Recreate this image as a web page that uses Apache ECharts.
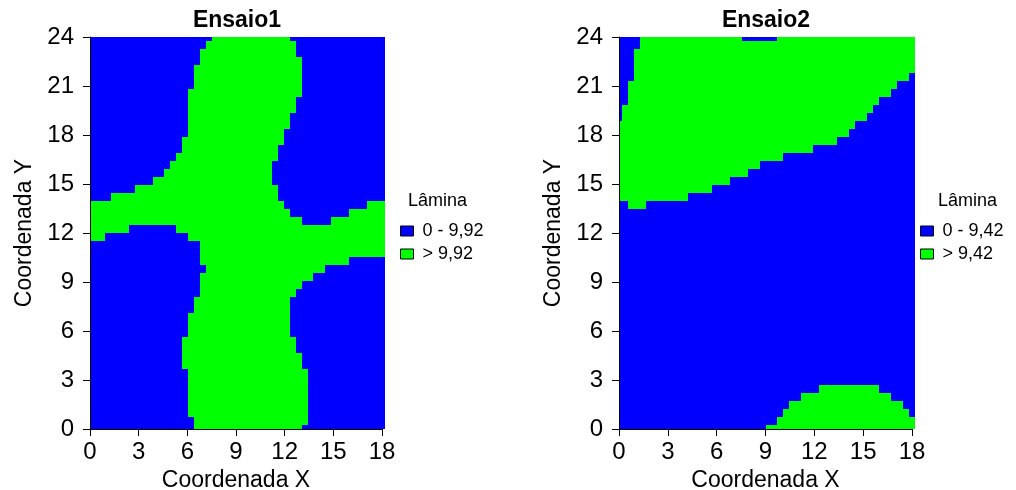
<!DOCTYPE html>
<html>
<head>
<meta charset="utf-8">
<script src="https://cdn.jsdelivr.net/npm/echarts@6/dist/echarts.min.js"></script>
<style>
html,body{margin:0;padding:0;background:#ffffff;}
#c{width:1016px;height:490px;}
</style>
</head>
<body>
<div id="c"></div>
<script>
// ---------- DATA ----------
const titles = ['Ensaio1', 'Ensaio2'];
const xTicks = [0, 3, 6, 9, 12, 15, 18];
const yTicks = [0, 3, 6, 9, 12, 15, 18, 21, 24];
const xName = 'Coordenada X';
const yName = 'Coordenada Y';
const legendTitle = 'Lâmina';
const ens1Classes = ['0 - 9,92', '> 9,92'];
const ens2Classes = ['0 - 9,42', '> 9,42'];
// interpolation grid: 50 x 50 nodes over X 0..18, Y 0..24
const gridCols = 50;
const gridRows = 50;
// green (> threshold) runs per grid row, bottom (row 0) to top (row 49),
// given as [first column, column after last] of grid nodes
const ens1Green = [
  [[18,36]], [[18,37]], [[17,37]], [[17,37]], [[17,37]],
  [[17,37]], [[17,37]], [[17,37]], [[16,36]], [[16,36]],
  [[16,35]], [[16,35]], [[17,34]], [[17,34]], [[17,34]],
  [[18,34]], [[18,34]], [[19,35]], [[19,36]], [[19,38]],
  [[20,40]], [[19,44]], [[19,50]], [[19,50]], [[0,3],[17,50]],
  [[0,7],[15,50]], [[0,36],[41,50]], [[0,34],[44,50]], [[0,33],[47,50]], [[4,32]],
  [[8,32]], [[11,31]], [[13,31]], [[14,31]], [[15,32]],
  [[16,32]], [[16,33]], [[17,33]], [[17,34]], [[17,34]],
  [[17,35]], [[17,35]], [[17,36]], [[18,36]], [[18,36]],
  [[18,36]], [[19,36]], [[19,35]], [[20,35]], [[21,34]]
];
const ens2Green = [
  [[25,50]], [[27,50]], [[28,49]], [[29,48]], [[31,46]],
  [[34,44]], [], [], [], [],
  [], [], [], [], [],
  [], [], [], [], [],
  [], [], [], [], [],
  [], [], [], [[2,5]], [[0,12]],
  [[0,16]], [[0,19]], [[0,22]], [[0,24]], [[0,28]],
  [[0,33]], [[0,37]], [[0,39]], [[0,40]], [[1,42]],
  [[1,43]], [[2,44]], [[2,46]], [[2,47]], [[3,49]],
  [[3,50]], [[3,50]], [[3,50]], [[4,50]], [[4,21],[27,50]]
];

// ---------- BUILD ----------
const xMin = xTicks[0], xMax = xTicks[xTicks.length - 1];
const yMin = yTicks[0], yMax = yTicks[yTicks.length - 1];

function buildRuns(rows) {
  const dx = (xMax - xMin) / (gridCols - 1);
  const dy = (yMax - yMin) / (gridRows - 1);
  const toX = k => Math.max(xMin, xMin + (k - 0.5) * dx);
  const low = [], high = [];
  rows.forEach((runs, j) => {
    const y0 = Math.max(yMin, yMin + (j - 0.5) * dy);
    const y1 = Math.min(yMax, yMin + (j + 0.5) * dy);
    let c = 0;
    runs.forEach(([s, e]) => {
      if (s > c) low.push([toX(c), toX(s), y0, y1]);
      high.push([toX(s), toX(e), y0, y1]);
      c = e;
    });
    if (c < gridCols) low.push([toX(c), toX(gridCols), y0, y1]);
  });
  return { low, high };
}

function renderItem(params, api) {
  const p0 = api.coord([api.value(0), api.value(3)]);
  const p1 = api.coord([api.value(1), api.value(2)]);
  const x0 = Math.round(p0[0]), x1 = Math.round(p1[0]);
  const y0 = Math.round(p0[1]), y1 = Math.round(p1[1]);
  return {
    type: 'rect',
    shape: { x: x0, y: y0, width: x1 - x0, height: y1 - y0 },
    style: { fill: api.visual('color'), stroke: null }
  };
}

const FONT = 'Liberation Sans, Arial, sans-serif';
const BLUE = '#0000ff', GREEN = '#00ff00';

const grids = [
  { left: 90, top: 37, width: 292, height: 392, outerBoundsMode: 'none', containLabel: false },
  { left: 619, top: 37, width: 293, height: 392, outerBoundsMode: 'none', containLabel: false }
];

function axisCommon() {
  return {
    axisLine: { show: true, lineStyle: { color: '#000', width: 1 } },
    axisTick: { show: true, length: 7, lineStyle: { color: '#000', width: 1 } },
    splitLine: { show: false },
    nameTextStyle: { color: '#000', fontSize: 23, fontFamily: FONT },
    z: 10
  };
}

const xAxes = grids.map((g, i) => Object.assign(axisCommon(), {
  type: 'value', gridIndex: i, min: xMin, max: xMax, interval: xTicks[1] - xTicks[0],
  name: xName, nameLocation: 'middle', nameGap: 34,
  axisLabel: { color: '#000', fontSize: 24, fontFamily: FONT, margin: 11 }
}));
const yAxes = grids.map((g, i) => Object.assign(axisCommon(), {
  type: 'value', gridIndex: i, min: yMin, max: yMax, interval: yTicks[1] - yTicks[0],
  name: yName, nameLocation: 'middle', nameGap: 54,
  axisLabel: { color: '#000', fontSize: 24, fontFamily: FONT, margin: 16 }
}));

const sets = [
  { runs: buildRuns(ens1Green), classes: ens1Classes },
  { runs: buildRuns(ens2Green), classes: ens2Classes }
];

const series = [];
sets.forEach((s, i) => {
  series.push({
    type: 'custom', name: s.classes[0], xAxisIndex: i, yAxisIndex: i,
    renderItem, data: s.runs.low, itemStyle: { color: BLUE },
    encode: { x: [0, 1], y: [2, 3] }, clip: false, silent: true
  });
  series.push({
    type: 'custom', name: s.classes[1], xAxisIndex: i, yAxisIndex: i,
    renderItem, data: s.runs.high, itemStyle: { color: GREEN },
    encode: { x: [0, 1], y: [2, 3] }, clip: false, silent: true
  });
});

const legendPos = [{ left: 400, lt: 408 }, { left: 920, lt: 938 }];

const option = {
  animation: false,
  backgroundColor: '#ffffff',
  title: [
    { text: titles[0], left: 237, top: 9, textAlign: 'center', padding: 0,
      textStyle: { fontSize: 23, fontWeight: 'bold', color: '#000', fontFamily: FONT } },
    { text: titles[1], left: 766, top: 9, textAlign: 'center', padding: 0,
      textStyle: { fontSize: 23, fontWeight: 'bold', color: '#000', fontFamily: FONT } },
    { text: legendTitle, left: legendPos[0].lt, top: 192, padding: 0,
      textStyle: { fontSize: 18, fontWeight: 'normal', color: '#000', fontFamily: FONT } },
    { text: legendTitle, left: legendPos[1].lt, top: 192, padding: 0,
      textStyle: { fontSize: 18, fontWeight: 'normal', color: '#000', fontFamily: FONT } }
  ],
  legend: sets.map((s, i) => ({
    orient: 'vertical', left: legendPos[i].left, top: 222, padding: 0,
    itemWidth: 13, itemHeight: 10, itemGap: 5, icon: 'rect',
    selectedMode: false,
    data: s.classes.map(n => ({ name: n, itemStyle: { borderColor: '#000', borderWidth: 1 } })),
    textStyle: { fontSize: 18, color: '#000', fontFamily: FONT, padding: [0, 0, 0, 4] }
  })),
  grid: grids,
  xAxis: xAxes,
  yAxis: yAxes,
  series
};

const chart = echarts.init(document.getElementById('c'), null, { renderer: 'canvas' });
chart.setOption(option);
</script>
</body>
</html>
